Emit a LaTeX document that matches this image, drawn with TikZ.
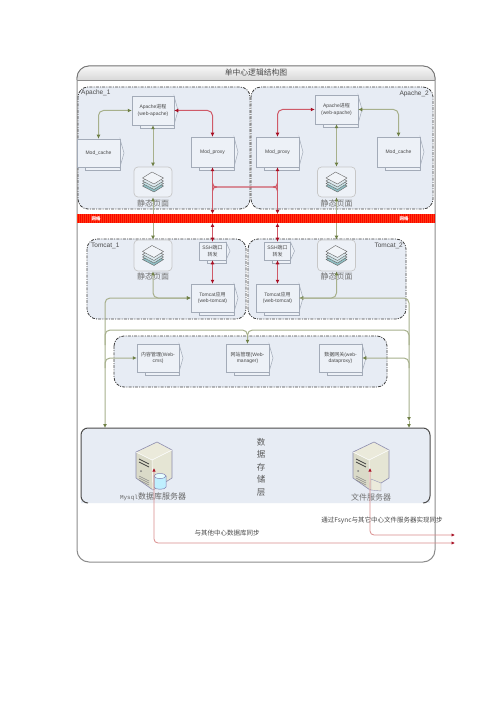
\documentclass[tikz,border=0pt]{standalone}
\usepackage{fontspec}
\setmainfont{Liberation Sans}
\newfontfamily\cjk{Noto Sans CJK SC}
\newfontfamily\monof{Liberation Mono}
\usetikzlibrary{arrows.meta,shapes.geometric}
\definecolor{zonefill}{HTML}{E7ECF4}
\definecolor{boxfill}{HTML}{EDF1F7}
\definecolor{boxline}{HTML}{A3ABB8}
\definecolor{txt}{HTML}{4A4A4A}
\definecolor{gline}{HTML}{A7B08C}
\definecolor{gtip}{HTML}{6E7F45}
\definecolor{rline}{HTML}{CF5A68}
\definecolor{rtip}{HTML}{A80F24}
\definecolor{sline}{HTML}{D98C8C}
\definecolor{layA}{HTML}{8FBFC4}
\definecolor{layB}{HTML}{C5E0E4}
\definecolor{layC}{HTML}{DDE9EE}
\definecolor{layD}{HTML}{F1F4F8}
\definecolor{srvT}{HTML}{EBEADB}
\definecolor{srvL}{HTML}{DADAC8}
\definecolor{srvR}{HTML}{E5E5D4}
\definecolor{bandA}{HTML}{FA0500}
\definecolor{bandB}{HTML}{FF3A10}
\tikzset{
  zone/.style={draw=black!75,fill=zonefill,line width=.8pt,rounded corners=10pt,dash pattern=on 3pt off 1.2pt on 1pt off 1.2pt},
  docnode/.style={draw=boxline,fill=boxfill,line width=.5pt,inner sep=0pt,align=center,text=txt,font=\fontsize{5}{6.6}\selectfont},
  docback/.style={draw=boxline,fill=boxfill,line width=.5pt},
  staticnode/.style={draw=black!22,fill=boxfill,line width=.7pt,rounded corners=4pt,inner sep=0pt},
  gconn/.style={draw=gline,line width=1pt,rounded corners=5pt,{Latex[length=4pt,width=4pt,color=gtip]}-{Latex[length=4pt,width=4pt,color=gtip]}},
  gone/.style={draw=gline,line width=1pt,rounded corners=5pt,-{Latex[length=4pt,width=4pt,color=gtip]}},
  gplain/.style={draw=gline,line width=1pt,rounded corners=5pt},
  rconn/.style={draw=rline,line width=1pt,rounded corners=5pt,{Latex[length=4pt,width=4pt,color=rtip]}-{Latex[length=4pt,width=4pt,color=rtip]}},
  rplain/.style={draw=rline,line width=1.1pt},
  sconn/.style={draw=sline,line width=.8pt,rounded corners=4pt,{Latex[length=3.5pt,width=3.5pt,color=rtip]}-{Latex[length=3.5pt,width=3.5pt,color=rtip]}},
  zlabel/.style={text=txt,font=\fontsize{6.5}{8}\selectfont,inner sep=0pt},
  bigzh/.style={text=black!55,font=\cjk\fontsize{8}{10}\selectfont,inner sep=0pt},
  smallzh/.style={text=txt,font=\cjk\fontsize{6.5}{7.5}\selectfont,inner sep=0pt},
}
\newcommand{\zh}[1]{{\cjk #1}}
\newcommand{\docbox}[6]{%
  \draw[docback] ({#2+8},{#5-3}) rectangle (#4,{#5+3});
  \draw[docback] (#4,#3) -- ({#4+4},{(#3+#5)/2}) -- (#4,#5) -- cycle;
  \node[docnode,minimum width={(#4-#2)*1pt},minimum height={(#5-#3)*1pt}] (#1) at ({(#2+#4)/2},{(#3+#5)/2}) {#6};
}
\newcommand{\stackicon}[2]{%
  \foreach \dy/\col in {5/layA,2.5/layB,0/layC,-3/layD}{%
    \draw[draw=black!60,fill=\col,line width=.4pt] ({(#1)-10.5},{(#2)+\dy}) -- ({(#1)-1},{(#2)+\dy-6}) -- ({(#1)+10.5},{(#2)+\dy}) -- ({(#1)+1},{(#2)+\dy+6}) -- cycle;
  }
}
\newcommand{\staticbox}[5]{%
  \node[staticnode,minimum width={(#4-#2)*1pt},minimum height={(#5-#3)*1pt}] (#1) at ({(#2+#4)/2},{(#3+#5)/2}) {};
  \stackicon{(#2+#4)/2}{(#3+#5)/2-1}
}
\newcommand{\serverbox}[1]{%
  \begin{scope}[xshift=#1pt]
  \fill[fill=srvT] (136,452) -- (157,442) -- (172,450) -- (152,460) -- cycle;
  \fill[fill=srvL] (136,452) -- (152,460) -- (153,490) -- (136,478) -- cycle;
  \fill[fill=srvR] (152,460) -- (172,450) -- (172,478) -- (153,490) -- cycle;
  \draw[draw=blue!30!black!45,line width=.6pt,line join=round] (136,452) -- (157,442) -- (172,450) -- (172,478) -- (153,490) -- (136,478) -- cycle;
  \draw[draw=white,line width=.5pt] (136,452) -- (152,460) -- (172,450) (152,460) -- (153,490);
  \draw[black!75,line width=.8pt] (139,459) -- (149,464) (139,462) -- (149,467);
  \fill[black!50] (141,471) circle (1pt);
  \draw[black!45,line width=.5pt] (139,476) -- (149,481) (139,478) -- (149,483) (139,480) -- (149,485);
  \end{scope}
}
\begin{document}
\begin{tikzpicture}[x=1pt,y=-1pt]
\useasboundingbox (0,0) rectangle (500,708);
% outer frame
\draw[draw=black!45,fill=white,line width=1pt,rounded corners=12pt] (77,66) rectangle (435,562);
\path[top color=black!3,bottom color=black!15] (77,80) [rounded corners=12pt] -- (77,66) -- (435,66) [sharp corners] -- (435,80) -- cycle;
\draw[draw=black!55,line width=.8pt] (77,80) [rounded corners=12pt] -- (77,66) -- (435,66) [sharp corners] -- (435,80);
\draw[draw=black!45,line width=.6pt] (77,80) -- (435,80);
\node[text=txt,font=\cjk\fontsize{7.8}{9}\selectfont,inner sep=0pt] (title) at (256,73) {单中心逻辑结构图};
% zones
\draw[zone] (78,87) rectangle (250,209);
\draw[zone] (251,87) rectangle (433,209);
\draw[zone] (87,239) rectangle (246,319);
\draw[zone] (248,239) rectangle (406,319);
\draw[zone] (114,336) rectangle (387,387);
\node[zlabel,anchor=west] (za1) at (81,93) {Apache\_1};
\node[zlabel,anchor=east] (za2) at (429,94) {Apache\_2};
\node[zlabel,anchor=west] (zt1) at (91,246) {Tomcat\_1};
\node[zlabel,anchor=east] (zt2) at (403,246) {Tomcat\_2};
% storage
\fill[zonefill,rounded corners=9pt] (81,503) -- (81,428) -- (430,428) -- (430,503) [sharp corners] -- cycle;
\fill[zonefill] (81,490) rectangle (430,503);
\draw[draw=black!70,line width=1pt,rounded corners=7pt] (88,503) -- (81,503) -- (81,428) -- (430,428) -- (430,503) -- (423,503);
\node[text=black!65,font=\cjk\fontsize{8.5}{12.5}\selectfont,align=center,inner sep=0pt] (stlabel) at (261,467) {数\\据\\存\\储\\层};
\coordinate (stL) at (105,428);
\coordinate (stR) at (409,428);
\coordinate (stR2) at (409,421);
% boxes
\docbox{proc1}{132}{96}{174}{125}{Apache\zh{进程}\\(web-apache)}
\docbox{cache1}{77}{139}{120}{167}{Mod\_cache}
\docbox{proxy1}{191}{137}{234}{167}{Mod\_proxy}
\staticbox{st1}{134}{167}{172}{197}
\docbox{proc2}{315}{95}{358}{124}{Apache\zh{进程}\\(web-apache)}
\docbox{proxy2}{256}{137}{299}{167}{Mod\_proxy}
\docbox{cache2}{377}{137}{420}{167}{Mod\_cache}
\staticbox{st2}{317.5}{167}{355.5}{197}
\staticbox{st3}{134}{240}{172}{271}
\staticbox{st4}{317.5}{240}{355.5}{271}
\docbox{ssh1}{199}{242}{226}{260}{SSH\zh{端口}\\\zh{转发}}
\docbox{ssh2}{264.5}{242}{290.5}{260}{SSH\zh{端口}\\\zh{转发}}
\docbox{tom1}{191}{284}{234}{312}{Tomcat\zh{应用}\\(web-tomcat)}
\docbox{tom2}{256}{284}{299}{312}{Tomcat\zh{应用}\\(web-tomcat)}
\docbox{cms}{137}{344}{179}{372}{\zh{内容管理}(Web-\\cms)}
\docbox{mgr}{226}{344}{269}{372}{\zh{网站管理}(Web-\\manager)}
\docbox{dpx}{319}{344}{362}{372}{\zh{数据网关}(web-\\dataproxy)}
\node[bigzh] (lb1) at (153,203) {静态页面};
\node[bigzh] (lb2) at (336.5,203) {静态页面};
\node[bigzh] (lb3) at (153,276) {静态页面};
\node[bigzh] (lb4) at (336.5,276) {静态页面};
% servers
\serverbox{0}
\serverbox{217}
\fill[fill=srvT,draw=blue!30!black!40,line width=.4pt] (371,479) -- (381,483) -- (381,491) -- (371,490) -- cycle;
\draw[draw=blue!40!black!50,fill=blue!25!cyan!25!white,line width=.5pt] (154,476) -- (154,487) .. controls (154,490) and (166,490) .. (166,487) -- (166,476) -- cycle;
\draw[draw=blue!40!black!50,fill=blue!8!cyan!10!white,line width=.5pt] (160,476) ellipse [x radius=6,y radius=2.5];
\node[text=black!60,inner sep=0pt] (srv1) at (153,497) {{\monof\fontsize{6}{8}\selectfont Mysql}{\cjk\fontsize{8}{10}\selectfont 数据库服务器}};
\node[bigzh] (srv2) at (371,497) {文件服务器};
\coordinate (ms) at (154,468);
\coordinate (fs) at (370,468);
\coordinate (outa) at (455,535);
\coordinate (outb) at (455,543);
% green connectors
\draw[gconn] (proc1.west) -| (cache1.north);
\draw[gconn] (proc1.south) -- (st1.north);
\draw[gconn] (proc2.east) -| (cache2.north);
\draw[gconn] (proc2.south) -- (st2.north);
\draw[gconn] (st1.south) -- (st3.north);
\draw[gconn] (st2.south) -- (st4.north);
\draw[gconn] (st3.south) |- (tom1.west);
\draw[gconn] (st4.south) |- (tom2.east);
\draw[gconn] (stL) |- (tom1.west);
\draw[gone] (tom2.east) -| (stR2);
\draw[gone] (stR2) -- (stR);
\draw[gone] (105,345) |- (247.5,330) -- (mgr.north);
\draw[gplain] (409,345) |- (247.5,330) -- (247.5,338);
\draw[gone] (105,368) |- (cms.west);
\draw[gone] (409,368) |- (dpx.east);
% band
\fill[bandA] (77,214) rectangle (435,223);
\draw[draw=bandB,line width=9pt,dash pattern=on .7pt off 1.3pt] (77,218.5) -- (435,218.5);
\node[text=white,font=\cjk\bfseries\fontsize{4.5}{5}\selectfont,inner sep=0pt] (net1) at (96,218.5) {网络};
\node[text=white,font=\cjk\bfseries\fontsize{4.5}{5}\selectfont,inner sep=0pt] (net2) at (404,218.5) {网络};
\coordinate (b1t) at (212.5,214);
\coordinate (b1b) at (212.5,223);
\coordinate (b2t) at (277.5,214);
\coordinate (b2b) at (277.5,223);
% red connectors
\draw[rconn] (proc1.east) -| (proxy1.north);
\draw[rconn] (proc2.west) -| (proxy2.north);
\draw[rconn] (proxy1.south) -- (b1t);
\draw[rconn] (proxy2.south) -- (b2t);
\draw[rconn] (b1b) -- (ssh1.north);
\draw[rconn] (b2b) -- (ssh2.north);
\draw[rconn] (ssh1.south) -- (tom1.north);
\draw[rconn] (ssh2.south) -- (tom2.north);
\coordinate (jl) at (212.5,187);
\coordinate (jr) at (277.5,187);
\draw[rplain] (212.5,183) .. controls (212.5,186) and (214,187) .. (217,187) -- (273,187) .. controls (276,187) and (277.5,186) .. (277.5,183);
\draw[rplain] (212.5,191) .. controls (212.5,188) and (214,187) .. (217,187);
\draw[rplain] (277.5,191) .. controls (277.5,188) and (276,187) .. (273,187);
% sync connectors
\draw[sconn] (ms) |- (outb);
\draw[sconn] (fs) |- (outa);
\node[smallzh] (syn1) at (227,533) {与其他中心数据库同步};
\node[smallzh] (syn2) at (382,521) {通过Fsync与其它中心文件服务器实现同步};
\end{tikzpicture}
\end{document}
